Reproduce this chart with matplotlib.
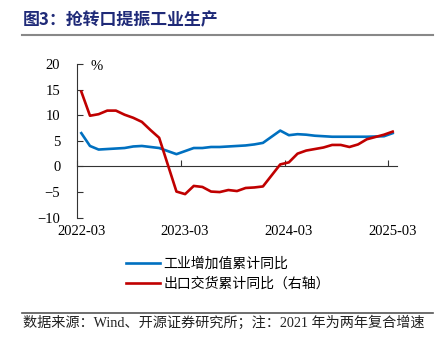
import matplotlib
matplotlib.use("Agg")
import matplotlib.pyplot as plt
import pandas as pd

# monthly cumulative yoy (%), January folded into February
months = ["2022-03", "2022-04", "2022-05", "2022-06", "2022-07", "2022-08",
          "2022-09", "2022-10", "2022-11", "2022-12",
          "2023-02", "2023-03", "2023-04", "2023-05", "2023-06", "2023-07",
          "2023-08", "2023-09", "2023-10", "2023-11", "2023-12",
          "2024-02", "2024-03", "2024-04", "2024-05", "2024-06", "2024-07",
          "2024-08", "2024-09", "2024-10", "2024-11", "2024-12",
          "2025-02", "2025-03"]
industry = [6.5, 4.0, 3.3, 3.4, 3.5, 3.6, 3.9, 4.0, 3.8, 3.6,
            2.4, 3.0, 3.6, 3.6, 3.8, 3.8, 3.9, 4.0, 4.1, 4.3, 4.6,
            7.0, 6.1, 6.3, 6.2, 6.0, 5.9, 5.8, 5.8, 5.8, 5.8, 5.8,
            5.9, 6.5]
export_delivery = [14.6, 9.9, 10.2, 10.9, 10.9, 10.1, 9.5, 8.7, 7.1, 5.6,
                   -4.9, -5.4, -3.8, -4.0, -4.9, -5.0, -4.6, -4.8, -4.2, -4.1, -3.9,
                   0.4, 0.8, 2.5, 3.1, 3.4, 3.7, 4.2, 4.2, 3.8, 4.3, 5.3,
                   6.2, 6.8]
tick_labels = ["2022-03", "2023-03", "2024-03", "2025-03"]

start = pd.Period(months[0], "M")
x = [(pd.Period(m, "M") - start).n for m in months]
tick_pos = [(pd.Period(t, "M") - start).n for t in tick_labels]

serif = ["Liberation Serif", "Noto Sans CJK SC"]
cjk = ["Noto Sans CJK SC", "Liberation Serif"]

fig = plt.figure(figsize=(4.41, 3.51), dpi=100)
ax = fig.add_axes([0.1746, 0.3798, 0.7256, 0.4379])

ax.plot(x, industry, color="#0070C0", lw=1.9, label="工业增加值累计同比", zorder=3)
ax.plot(x, export_delivery, color="#C00000", lw=1.9, label="出口交货累计同比（右轴）", zorder=4)

ax.set_ylim(-10, 20)
ax.set_yticks(range(-10, 21, 5))
ax.set_xlim(-0.5, 36.5)

for s in ["top", "right"]:
    ax.spines[s].set_visible(False)
ax.spines["left"].set_color("#333333")
ax.spines["left"].set_linewidth(0.8)
ax.spines["bottom"].set_position(("data", 0))
ax.spines["bottom"].set_color("#333333")
ax.spines["bottom"].set_linewidth(0.8)

ax.tick_params(axis="y", direction="in", length=4, width=0.8, pad=12,
               labelsize=10.5, color="#333333")
for lab in ax.get_yticklabels():
    lab.set_family(serif)

# tick marks between months on the zero line
ax.set_xticks([p - 0.5 for p in tick_pos])
ax.tick_params(axis="x", direction="in", length=4, width=0.8, labelbottom=False,
               color="#333333")

sec = ax.secondary_xaxis(0.0)
sec.set_xticks(tick_pos)
sec.set_xticklabels(tick_labels, family=serif, fontsize=10.5)
sec.tick_params(length=0, pad=5)
sec.spines["bottom"].set_visible(False)

ax.text(0.06, 0.985, "%", transform=ax.transAxes, ha="center", va="center",
        family=serif, fontsize=10.5)

fig.text(0.052, 0.943, "图3：抢转口提振工业生产", family=["Noto Sans CJK SC"],
         fontsize=12.2, fontweight="bold", color="#1F2A78", ha="left", va="center")
fig.add_artist(plt.Line2D([0.05, 0.982], [0.9, 0.9], color="#888888", lw=1.5))

ax.legend(loc="upper left", bbox_to_anchor=(0.137, -0.218), frameon=False,
          prop={"family": cjk, "size": 10}, handlelength=2.4,
          handletextpad=0.25, labelspacing=0.45, borderaxespad=0)

fig.add_artist(plt.Line2D([0.05, 0.982], [0.109, 0.109], color="#555555", lw=1.2))
fig.text(0.052, 0.082, "数据来源：Wind、开源证券研究所；注：2021 年为两年复合增速",
         family=serif, fontsize=10.2, ha="left", va="center", color="#222222")

fig.savefig("out.png", dpi=100)
